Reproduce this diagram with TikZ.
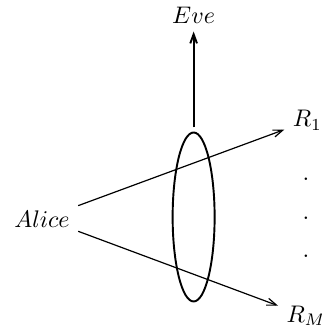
\documentclass[tikz,border=0pt]{standalone}
\usetikzlibrary{arrows.meta,shapes.geometric}

\begin{document}
\begin{tikzpicture}[
    party/.style={font=\normalsize},
    link/.style={-{Straight Barb[length=4pt,width=3pt]}, line width=0.5pt},
    leak/.style={-{Straight Barb[length=3.8pt,width=2.8pt]}, thick},
    tap/.style={draw, ellipse, thick, inner sep=0pt, minimum width=0.615cm, minimum height=2.475cm}
]
    \useasboundingbox (0,0) rectangle (4.716,4.804);

    % Sender
    \node[party] (alice) at (0.615, 1.599) {$Alice$};

    % Receivers
    \node[party] (r1) at (4.501, 3.042) {$R_1$};
    \node[party] (rM) at (4.486, 0.176) {$R_M$};
    \foreach \y [count=\i] in {2.182, 1.611, 1.055}
        \node[inner sep=0pt] (dot\i) at (4.482, \y) {.};

    % Eavesdropper
    \node[tap] (ell) at (2.836, 1.626) {};
    \node[party] (eve) at (2.836, 4.587) {$Eve$};

    % Channels
    \draw[link] (alice.20) -- (r1.202);
    \draw[link] (alice.-19) -- (rM.160);
    \draw[leak, shorten <=1.7pt] (ell.north) -- (eve.south);
\end{tikzpicture}
\end{document}
